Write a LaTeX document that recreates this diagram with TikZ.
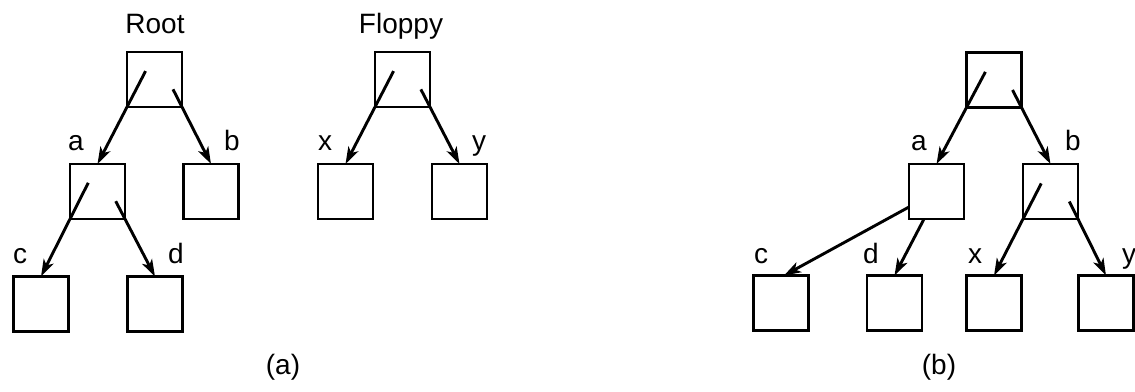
\documentclass[tikz,border=0pt]{standalone}
\usepackage{fontspec}
\setmainfont{Liberation Sans}
\usetikzlibrary{arrows.meta,calc}
\begin{document}
\begin{tikzpicture}[x=1pt,y=-1pt,
  box/.style={draw,line width=2.9pt,minimum width=55pt,minimum height=55pt,inner sep=0pt,outer sep=0pt},
  arr/.style={line width=2.9pt,-{Stealth[length=17pt,width=11pt,inset=4.5pt]}},
  lbl/.style={inner sep=0pt,anchor=base,font=\fontsize{28}{32}\selectfont}]
\useasboundingbox (0,0) rectangle (1135,391);
% (a)
\node[box] (R) at (154.5,79.5) {};
\node[box] (a) at (97.5,191.5) {};
\node[box] (b) at (211,191.5) {};
\node[box] (c) at (41,304) {};
\node[box] (d) at (155,304) {};
\node[box] (F) at (402.5,79.5) {};
\node[box] (x) at (345.5,191.5) {};
\node[box] (y) at (459.5,191.5) {};
\node[lbl] (tR) at (155,33) {Root};
\node[lbl] (tF) at (401,33) {Floppy};
\node[lbl] (ta) at (76,150) {a};
\node[lbl] (tb) at (232,150) {b};
\node[lbl] (tx) at (325,150) {x};
\node[lbl] (ty) at (479,150) {y};
\node[lbl] (tc) at (20,263) {c};
\node[lbl] (td) at (176,263) {d};
\node[lbl] (capa) at (283,374) {(a)};
\draw[arr] ($(R.south west)!-0.63!(a.north)$) -- (a.north);
\draw[arr] ($(R.south east)!-0.31!(b.north)$) -- (b.north);
\draw[arr] ($(a.south west)!-0.63!(c.north)$) -- (c.north);
\draw[arr] ($(a.south east)!-0.31!(d.north)$) -- (d.north);
\draw[arr] ($(F.south west)!-0.63!(x.north)$) -- (x.north);
\draw[arr] ($(F.south east)!-0.31!(y.north)$) -- (y.north);
% (b)
\node[box] (R2) at (994,80) {};
\node[box] (a2) at (936.5,191.5) {};
\node[box] (b2) at (1050.5,191.5) {};
\node[box] (c2) at (781,303) {};
\node[box] (d2) at (894.5,303) {};
\node[box] (x2) at (994,303) {};
\node[box] (y2) at (1106,303) {};
\node[lbl] (ta2) at (919,150) {a};
\node[lbl] (tb2) at (1073,150) {b};
\node[lbl] (tc2) at (761,263) {c};
\node[lbl] (td2) at (871,263) {d};
\node[lbl] (tx2) at (975,263) {x};
\node[lbl] (ty2) at (1129,263) {y};
\node[lbl] (capb) at (939,374) {(b)};
\coordinate (ac) at ($(a2.south west)+(0,-12)$);
\coordinate (ad) at ($(a2.south)+(-12.5,0)$);
\draw[arr] ($(R2.south west)!-0.63!(a2.north)$) -- (a2.north);
\draw[arr] ($(R2.south east)!-0.31!(b2.north)$) -- (b2.north);
\draw[arr] (ac) -- ($(c2.north)+(3,0)$);
\draw[arr] (ad) -- (d2.north);
\draw[arr] ($(b2.south west)!-0.63!(x2.north)$) -- (x2.north);
\draw[arr] ($(b2.south east)!-0.31!(y2.north)$) -- (y2.north);
\end{tikzpicture}
\end{document}
